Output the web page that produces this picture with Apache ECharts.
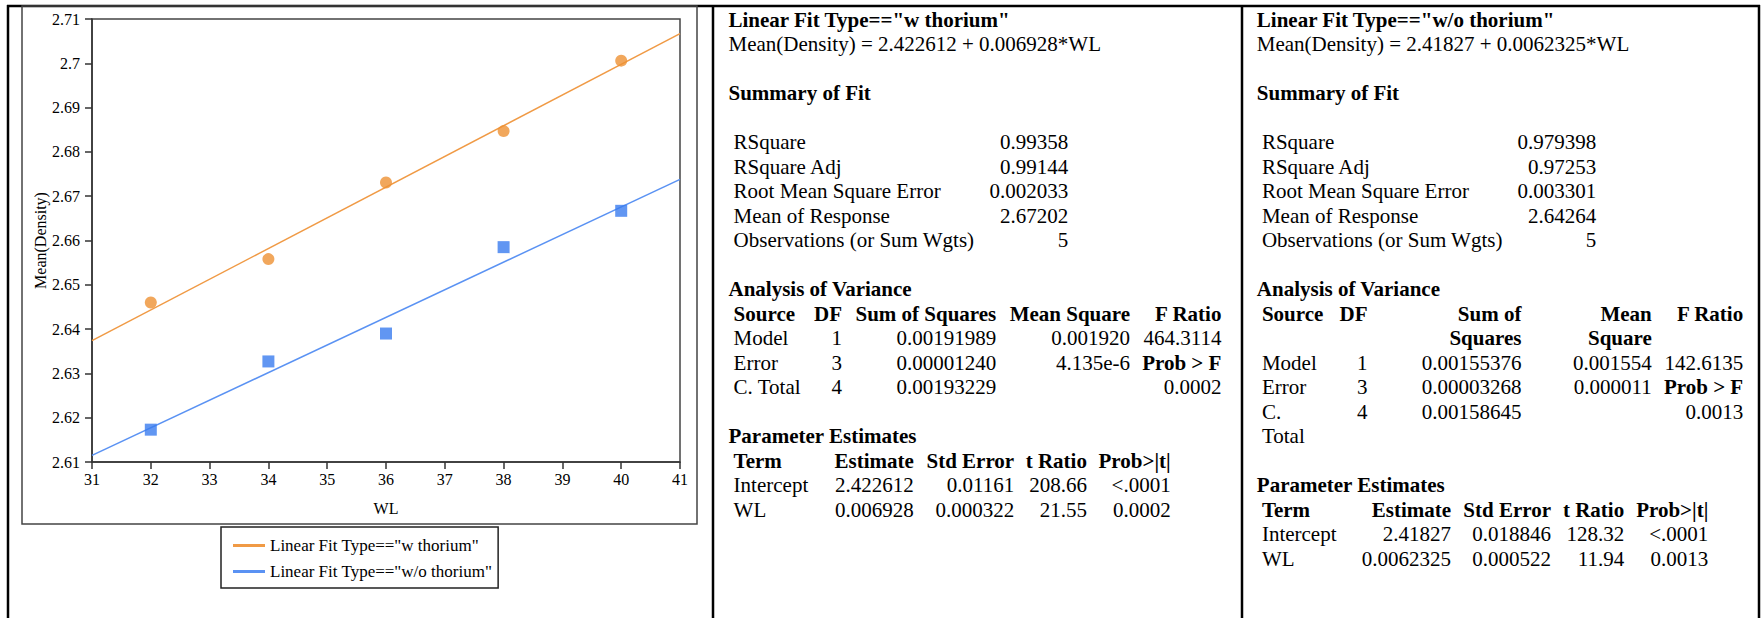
<!DOCTYPE html>
<html>
<head>
<meta charset="utf-8">
<script src="https://cdn.jsdelivr.net/npm/echarts@6/dist/echarts.min.js"></script>
<style>
html,body{margin:0;padding:0;background:#fff;}
#chart{width:1762px;height:618px;}
</style>
</head>
<body>
<div id="chart"></div>
<script>
// ---------------- data ----------------
const wlValues = [32, 34, 36, 38, 40];
const densityWithThorium = [2.6460, 2.6558, 2.6731, 2.6847, 2.7006];
const densityWithoutThorium = [2.6173, 2.6327, 2.6390, 2.6585, 2.6667];
const fitX = [31, 41];
const fitWithThoriumY = [2.6374, 2.7067];
const fitWithoutThoriumY = [2.6115, 2.6738];
const xTickRange = [31, 41, 1];
const yTickRange = [2.61, 2.71, 0.01];

const seriesNames = ['w thorium', 'w/o thorium'];
const fitNames = ['Linear Fit Type=="w thorium"', 'Linear Fit Type=="w/o thorium"'];
const xAxisName = 'WL';
const yAxisName = 'Mean(Density)';

const fitEquations = ['Mean(Density) = 2.422612 + 0.006928*WL', 'Mean(Density) = 2.41827 + 0.0062325*WL'];
const sectionTitles = ['Summary of Fit', 'Analysis of Variance', 'Parameter Estimates'];
const summaryLabels = ['RSquare', 'RSquare Adj', 'Root Mean Square Error', 'Mean of Response', 'Observations (or Sum Wgts)'];
const summaryWithThorium = ['0.99358', '0.99144', '0.002033', '2.67202', '5'];
const summaryWithoutThorium = ['0.979398', '0.97253', '0.003301', '2.64264', '5'];
const anovaHeader = ['Source', 'DF', 'Sum of Squares', 'Mean Square', 'F Ratio'];
const anovaWithThorium = [
  ['Model', '1', '0.00191989', '0.001920', '464.3114'],
  ['Error', '3', '0.00001240', '4.135e-6', 'Prob > F'],
  ['C. Total', '4', '0.00193229', '', '0.0002']
];
const anovaWithoutThorium = [
  ['Model', '1', '0.00155376', '0.001554', '142.6135'],
  ['Error', '3', '0.00003268', '0.000011', 'Prob > F'],
  ['C. Total', '4', '0.00158645', '', '0.0013']
];
const paramHeader = ['Term', 'Estimate', 'Std Error', 't Ratio', 'Prob>|t|'];
const paramWithThorium = [
  ['Intercept', '2.422612', '0.01161', '208.66', '<.0001'],
  ['WL', '0.006928', '0.000322', '21.55', '0.0002']
];
const paramWithoutThorium = [
  ['Intercept', '2.41827', '0.018846', '128.32', '<.0001'],
  ['WL', '0.0062325', '0.000522', '11.94', '0.0013']
];

// ---------------- layout / style ----------------
const SERIF = '"Liberation Serif", "Times New Roman", serif';
const ORANGE = '#ED9133';
const BLUE = '#3A7CEF';
const ORANGE_LINE = '#F09A45';
const BLUE_LINE = '#5A92F3';

const panels = [
  {
    title: fitNames[0], eq: fitEquations[0], summary: summaryWithThorium,
    anova: anovaWithThorium, params: paramWithThorium,
    titleX: 728.5, labelX: 733.6, summaryRight: 1068.3,
    anovaX: [733.6, 842, 996.3, 1130, 1221.4],
    paramX: [733.6, 913.8, 1014.2, 1086.9, 1170.7],
    wrap: false
  },
  {
    title: fitNames[1], eq: fitEquations[1], summary: summaryWithoutThorium,
    anova: anovaWithoutThorium, params: paramWithoutThorium,
    titleX: 1256.8, labelX: 1261.9, summaryRight: 1596.3,
    anovaX: [1261.9, 1367.5, 1521.4, 1651.8, 1743.2],
    paramX: [1261.9, 1451.1, 1551, 1624.2, 1708.3],
    wrap: true
  }
];

const FS = 21;
const LINE0 = 28.6;
const LINE_STEP = 24.5;
const MID_OFF = 9;

function textEl(x, baseline, s, align, bold, size) {
  return {
    type: 'text', x: x, y: baseline - MID_OFF, silent: true,
    style: {
      text: s, align: align || 'left', verticalAlign: 'middle',
      fontFamily: SERIF, fontSize: size || FS, fontWeight: bold ? 'bold' : 'normal',
      fill: '#000'
    }
  };
}
function splitLast(s) {
  const i = s.lastIndexOf(' ');
  return i < 0 ? [s] : [s.slice(0, i), s.slice(i + 1)];
}

const graphics = [];
panels.forEach(P => {
  let k = 0;
  const bl = () => LINE0 + LINE_STEP * k;
  graphics.push(textEl(P.titleX, bl(), P.title, 'left', true)); k++;
  graphics.push(textEl(P.titleX, bl(), P.eq, 'left', false)); k += 2;
  graphics.push(textEl(P.titleX, bl(), sectionTitles[0], 'left', true)); k += 2;
  summaryLabels.forEach((lab, i) => {
    graphics.push(textEl(P.labelX, bl(), lab, 'left', false));
    graphics.push(textEl(P.summaryRight, bl(), P.summary[i], 'right', false));
    k++;
  });
  k++;
  graphics.push(textEl(P.titleX, bl(), sectionTitles[1], 'left', true)); k++;
  const addRow = (cells, xs, header, wrapFn) => {
    let maxLines = 1;
    cells.forEach((c, i) => {
      const lines = wrapFn ? wrapFn(c, i) : [c];
      maxLines = Math.max(maxLines, lines.length);
      lines.forEach((ln, j) => {
        const bold = header || c === 'Prob > F';
        graphics.push(textEl(xs[i], bl() + LINE_STEP * j, ln, i === 0 ? 'left' : 'right', bold));
      });
    });
    k += maxLines;
  };
  const headWrap = P.wrap ? (c, i) => (i === 2 || i === 3) ? splitLast(c) : [c] : null;
  const rowWrap = P.wrap ? (c, i) => (i === 0) ? splitLast(c) : [c] : null;
  addRow(anovaHeader, P.anovaX, true, headWrap);
  P.anova.forEach(r => addRow(r, P.anovaX, false, rowWrap));
  k++;
  graphics.push(textEl(P.titleX, bl(), sectionTitles[2], 'left', true)); k++;
  addRow(paramHeader, P.paramX, true, null);
  P.params.forEach(r => addRow(r, P.paramX, false, null));
});

// frames
const BORDER = '#000';
graphics.push({ type: 'line', silent: true, shape: { x1: 7, y1: 6, x2: 1760, y2: 6 }, style: { stroke: BORDER, lineWidth: 2.5 } });
[8, 713, 1242, 1759].forEach(x => graphics.push({ type: 'line', silent: true, shape: { x1: x, y1: 5, x2: x, y2: 618 }, style: { stroke: BORDER, lineWidth: 2.5 } }));
graphics.push({ type: 'rect', silent: true, shape: { x: 22, y: 6, width: 675, height: 518 }, style: { fill: 'none', stroke: '#444', lineWidth: 1.5 } });

// ---------------- chart ----------------
const zip = (xs, ys) => xs.map((x, i) => [x, ys[i]]);
const chart = echarts.init(document.getElementById('chart'), null, { renderer: 'svg' });
const axisStyle = { color: '#333', width: 1.5 };
chart.setOption({
  animation: false,
  backgroundColor: '#fff',
  grid: { left: 92, right: 1082, top: 19, bottom: 156, show: true, borderColor: '#444', borderWidth: 1.5, backgroundColor: 'transparent' },
  xAxis: {
    type: 'value', min: xTickRange[0], max: xTickRange[1], interval: xTickRange[2],
    name: xAxisName, nameLocation: 'middle', nameGap: 38,
    nameTextStyle: { fontFamily: SERIF, fontSize: 16, color: '#000' },
    axisLine: { show: true, onZero: false, lineStyle: axisStyle },
    axisTick: { show: true, length: 7, lineStyle: axisStyle },
    axisLabel: { fontFamily: SERIF, fontSize: 16, color: '#000', margin: 9 },
    splitLine: { show: false }
  },
  yAxis: {
    type: 'value', min: yTickRange[0], max: yTickRange[1], interval: yTickRange[2],
    name: yAxisName, nameLocation: 'middle', nameGap: 44,
    nameTextStyle: { fontFamily: SERIF, fontSize: 16, color: '#000' },
    axisLine: { show: true, onZero: false, lineStyle: axisStyle },
    axisTick: { show: true, length: 7, lineStyle: axisStyle },
    axisLabel: { fontFamily: SERIF, fontSize: 16, color: '#000', margin: 12 },
    splitLine: { show: false }
  },
  legend: {
    orient: 'vertical', left: 221, top: 527,
    data: fitNames.map(n => ({ name: n, icon: 'rect' })),
    itemWidth: 32, itemHeight: 3, itemGap: 9,
    padding: [10, 6, 8, 12],
    borderColor: '#222', borderWidth: 1.5,
    selectedMode: false,
    textStyle: { fontFamily: SERIF, fontSize: 17, color: '#000' }
  },
  series: [
    { type: 'line', name: fitNames[0], data: zip(fitX, fitWithThoriumY), showSymbol: false, symbol: 'none', color: ORANGE_LINE, lineStyle: { width: 1.5, color: ORANGE_LINE }, z: 2 },
    { type: 'line', name: fitNames[1], data: zip(fitX, fitWithoutThoriumY), showSymbol: false, symbol: 'none', color: BLUE_LINE, lineStyle: { width: 1.5, color: BLUE_LINE }, z: 2 },
    { type: 'scatter', name: seriesNames[0], data: zip(wlValues, densityWithThorium), symbol: 'circle', symbolSize: 12, itemStyle: { color: ORANGE }, z: 3 },
    { type: 'scatter', name: seriesNames[1], data: zip(wlValues, densityWithoutThorium), symbol: 'rect', symbolSize: 12, itemStyle: { color: BLUE }, z: 3 }
  ],
  graphic: { elements: graphics }
});
</script>
</body>
</html>
